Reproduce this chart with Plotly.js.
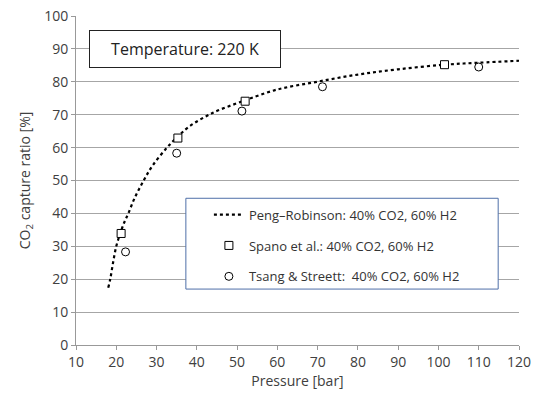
<!DOCTYPE html>
<html><head><meta charset="utf-8">
<script src="https://cdn.plot.ly/plotly-3.0.1.min.js"></script>
<style>html,body{margin:0;padding:0;background:#fff}#c{width:533px;height:402px}</style>
</head><body><div id="c"></div>
<script>
const prX = [18, 18.5, 19.2, 20, 21, 22, 23, 24.5, 26.8, 29, 32.6, 35, 38, 44, 50, 52, 59.8, 69.8, 80, 90, 101.5, 110, 120];
const prY = [17.4, 20, 25, 30, 34, 37.3, 40, 44.5, 50, 54.5, 60, 63, 66.3, 70.6, 73.5, 74.4, 77.6, 80, 82.2, 83.8, 85.2, 85.8, 86.4];
const spanoX = [21.2, 35.3, 52.0, 101.5];
const spanoY = [33.9, 62.9, 74.1, 85.2];
const tsangX = [22.3, 35.0, 51.2, 71.2, 110.0];
const tsangY = [28.3, 58.3, 71.1, 78.5, 84.5];
const names = ['Peng\u2013Robinson: 40% CO2, 60% H2', 'Spano et al.: 40% CO2, 60% H2', 'Tsang & Streett:  40% CO2, 60% H2'];

const font = 'Open Sans, Liberation Sans, sans-serif';
const traces = [
  {x: prX, y: prY, name: names[0], legendgroup: 'a', mode: 'lines', line: {color: '#000', width: 2.2, dash: 'dot', shape: 'spline'}},
  {x: spanoX, y: spanoY, name: names[1], legendgroup: 'b', mode: 'markers', marker: {symbol: 'square', size: 8, color: '#fff', line: {width: 1, color: '#000'}}},
  {x: tsangX, y: tsangY, name: names[2], legendgroup: 'c', mode: 'markers', marker: {symbol: 'circle', size: 8, color: '#fff', line: {width: 1, color: '#000'}}}
];
const layout = {
  width: 533, height: 402,
  margin: {l: 76, r: 14, t: 16, b: 57},
  paper_bgcolor: '#fff', plot_bgcolor: '#fff',
  font: {family: font, size: 13, color: '#404040'},
  showlegend: true,
  legend: {x: 0.3, y: 0.442, xanchor: 'left', yanchor: 'top', bgcolor: 'rgba(0,0,0,0)', borderwidth: 0,
    font: {family: font, size: 13, color: '#333'}, traceorder: 'grouped', tracegroupgap: 11, itemwidth: 30},
  xaxis: {range: [10, 120], tickvals: [10,20,30,40,50,60,70,80,90,100,110,120], showgrid: false, zeroline: false,
    showline: true, linecolor: '#999', linewidth: 1, ticks: 'outside', ticklen: 4, tickcolor: '#999',
    tickfont: {size: 14, color: '#404040'},
    title: {text: 'Pressure [bar]', font: {size: 14, color: '#404040'}, standoff: 6}},
  yaxis: {range: [0, 100], tickvals: [0,10,20,30,40,50,60,70,80,90,100], showgrid: true, gridcolor: '#a6a6a6', gridwidth: 1,
    zeroline: false, showline: true, linecolor: '#999', linewidth: 1, ticks: 'outside', ticklen: 4, tickcolor: '#999',
    tickfont: {size: 14, color: '#404040'},
    title: {text: 'CO<sub>2</sub> capture ratio [%]', font: {size: 14, color: '#404040'}, standoff: 10}},
  shapes: [
    {type: 'rect', xref: 'paper', yref: 'paper', x0: 0.248, x1: 0.953, y0: 0.17, y1: 0.446,
      line: {color: '#4f6fa8', width: 1}, fillcolor: '#fff', layer: 'above'}
  ],
  annotations: [
    {xref: 'paper', yref: 'paper', x: 0.03, y: 0.9, xanchor: 'left', yanchor: 'middle', text: 'Temperature: 220 K',
      showarrow: false, font: {family: font, size: 16, color: '#222'}, bgcolor: '#fff', bordercolor: '#222', borderwidth: 1,
      borderpad: 7, width: 176}
  ]
};
Plotly.newPlot('c', traces, layout, {displayModeBar: false, staticPlot: true});
</script></body></html>
